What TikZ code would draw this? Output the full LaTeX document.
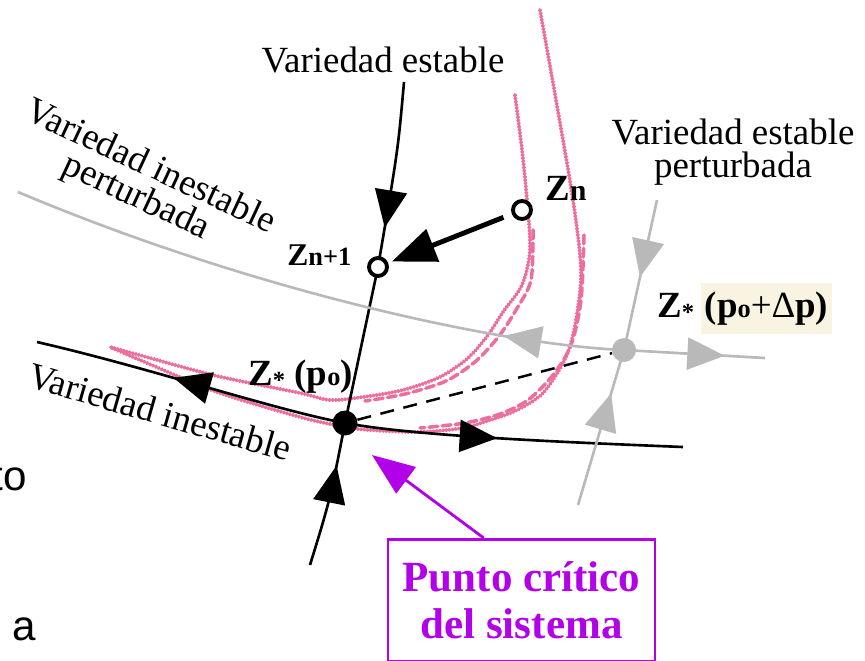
\documentclass[tikz,border=0pt]{standalone}
\usepackage{fontspec}
\setmainfont{Liberation Serif}
\setsansfont{Liberation Sans}
\usetikzlibrary{arrows.meta, positioning, calc, backgrounds, decorations.markings}
\definecolor{orbpink}{RGB}{232,74,132}
\definecolor{pgray}{RGB}{185,185,185}
\definecolor{notepurple}{RGB}{178,0,232}
\definecolor{hlbeige}{RGB}{249,244,226}
\newcommand{\zsm}[2]{{\fontsize{#1}{#1}\selectfont #2}}
\tikzset{
  man/.style={line width=1.5pt},
  pman/.style={line width=1.5pt, pgray},
  orb/.style={line width=2.2pt, orbpink!80, line cap=round, dash pattern=on 0.4pt off 1.4pt},
  orbdash/.style={line width=2pt, orbpink!80, line cap=round, dash pattern=on 5pt off 2.5pt},
  marr/.style={postaction={decorate, decoration={markings,
      mark=at position #1 with {\arrow{Triangle[length=0.75cm, width=0.64cm]}}}}},
  lbl/.style={font=\fontsize{21}{19}\selectfont, align=center, inner sep=0pt},
  zlab/.style={font=\fontsize{21}{21}\selectfont\bfseries, inner sep=0pt},
  ocirc/.style={circle, draw, line width=2.2pt, fill=white, minimum size=0.36cm, inner sep=0pt},
}
\begin{document}
\begin{tikzpicture}[x=0.02cm, y=-0.02cm]
  \useasboundingbox (0,0) rectangle (865,660);

  % puntos
  \node[circle, fill, minimum size=0.5cm, inner sep=0pt] (zs) at (345,423) {};
  \node[circle, fill=pgray, minimum size=0.48cm, inner sep=0pt] (zp) at (624,350) {};
  \node[ocirc] (zn) at (522,210) {};
  \node[ocirc] (zn1) at (378,267) {};
  \coordinate (sTop) at (404,82);
  \coordinate (sBot) at (310,565);
  \coordinate (uL) at (37,342);
  \coordinate (uR) at (683,447);
  \coordinate (pL) at (18,192);
  \coordinate (pR) at (765,358);
  \coordinate (psTop) at (657,200);
  \coordinate (psBot) at (578,505);
  \coordinate (ptip) at (372,455);

  \begin{scope}[on background layer]
    % trayectorias
    \draw[orb] plot[smooth] coordinates {(540,10) (556,100) (573,200) (581,270) (576,320)
      (566,357) (543,393) (515,411) (487,421) (463,428) (420,432) (370,430) (345,427)
      (300,417) (217,392) (140,360) (110,347)};
    \draw[orbdash] plot[smooth] coordinates {(584,235) (581,300) (571,345) (553,375)
      (528,400) (500,414) (465,423) (420,428)};
    \draw[orb] plot[smooth] coordinates {(515,95) (522,150) (527,200) (530,250) (522,285)
      (503,312) (488,335) (468,358) (440,377) (403,390) (363,397) (330,400) (300,393)
      (217,376) (150,358) (110,347)};
    \draw[orbdash] plot[smooth] coordinates {(533,230) (531,280) (516,310) (499,336)
      (476,361) (446,381) (405,394) (365,401)};

    % variedades sin perturbar
    \draw[man, marr=2.94cm] (sTop) .. controls (398,150) .. (zn1.center)
      .. controls (362,345) .. (zs.center);
    \draw[man, marr=2.06cm] (sBot) .. controls (330,500) .. (zs.center);
    \draw[man, marr=3.55cm] (zs.center) .. controls (275,410) and (150,368) .. (uL);
    \draw[man, marr=3.06cm] (zs.center) .. controls (415,436) and (560,442) .. (uR);

    % variedades perturbadas
    \draw[pman, marr=2.42cm] (zp.center) .. controls (500,345) and (250,290) .. (pL);
    \draw[pman, marr=2.02cm] (zp.center) -- (pR);
    \draw[pman, marr=1.58cm] (psTop) -- (zp.center);
    \draw[pman, marr=2.33cm] (psBot) -- (zp.center);
  \end{scope}

  \draw[line width=1.4pt, dash pattern=on 8pt off 5.5pt] (zs) -- (zp);
  \draw[line width=2.8pt, -{Triangle[length=0.88cm, width=0.68cm]},
    shorten <=0.18cm, shorten >=0.08cm] (zn) -- (zn1);

  % etiquetas
  \node[lbl] (lvs) at (383,60) {Variedad estable};
  \node[lbl] (lvsp) at (733,152) {Variedad estable\\perturbada};
  \node[lbl, rotate=-25] (lvip) at (143,183) {Variedad inestable\\perturbada};
  \node[lbl, rotate=-16] (lvi) at (160,412) {Variedad inestable};

  \node[zlab, anchor=base west] (lzn) at (545,200) {Z\zsm{17}{n}};
  \node[zlab, anchor=base west] (lzn1) at (287,265) {\zsm{18}{Z}\zsm{15}{n+1}};
  \node[zlab, anchor=base west] (lzs) at (248,385)
    {Z\raisebox{-2pt}{\zsm{14}{*}} (p\zsm{15}{o})};
  \node[zlab, anchor=base west] (lzp) at (657,317) {Z\raisebox{-2pt}{\zsm{14}{*}}};
  \node[zlab, anchor=base west, fill=hlbeige, inner xsep=2pt, inner ysep=5pt]
    (lpp) at (701,317) {(p\zsm{15}{o}{\mdseries +Δ}p)};

  % punto critico
  \node[draw=notepurple, text=notepurple, line width=1.6pt, align=center,
    font=\fontsize{24.5}{27}\selectfont\bfseries, minimum width=5.34cm,
    minimum height=2.44cm, anchor=north] (pc) at (521.5,538)
    {Punto crítico\\del sistema};
  \draw[notepurple, line width=1.6pt, -{Triangle[length=0.85cm, width=0.65cm]}]
    ($(pc.north west)!0.36!(pc.north east)$) -- (ptip);

  % texto cortado
  \node[font=\sffamily\fontsize{24}{24}\selectfont, inner sep=0pt, anchor=base east]
    (tto) at (27.5,490) {to};
  \node[font=\sffamily\fontsize{24}{24}\selectfont, inner sep=0pt, anchor=base]
    (ta) at (24.5,640) {a};
\end{tikzpicture}
\end{document}
